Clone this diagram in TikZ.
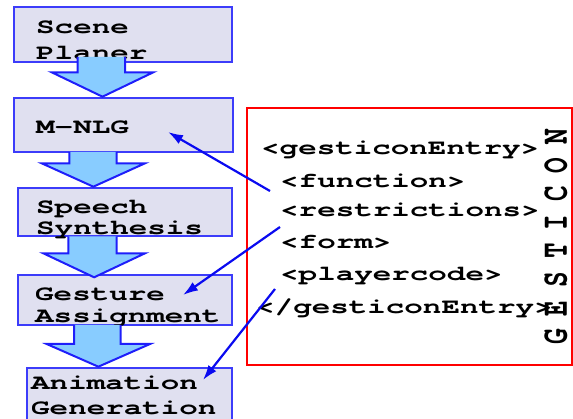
\documentclass[tikz,border=0pt]{standalone}
\usepackage{fontspec}
\newfontfamily\courwide[FakeStretch=1.45]{texgyrecursor-bold.otf}
\newfontfamily\courplain{texgyrecursor-bold.otf}
\usetikzlibrary{arrows.meta}

\definecolor{boxfill}{RGB}{224,224,240}
\definecolor{boxline}{RGB}{60,60,250}
\definecolor{flowfill}{RGB}{136,204,255}
\definecolor{flowline}{RGB}{30,30,250}
\definecolor{linkblue}{RGB}{10,10,240}
\definecolor{lexred}{RGB}{255,0,0}

% block arrow between two stages: top, shoulder, tip y, shaft left, shaft right, head left, head right
\newcommand\flowarrow[7]{%
  \fill[flowfillst] (#4,#1) -- (#5,#1) -- (#5,#2) -- (#7,#2) -- ({(#6+#7)/2},#3)
     -- (#6,#2) -- (#4,#2) -- cycle;
  \draw[flowedge] (#4,#1) -- (#4,#2) -- (#6,#2) -- ({(#6+#7)/2},#3)
     -- (#7,#2) -- (#5,#2) -- (#5,#1);}

\begin{document}
\begin{tikzpicture}[x=1pt,y=-1pt,
  stagebox/.style={draw=boxline, fill=boxfill, line width=1.3pt, inner sep=0pt},
  stagetext/.style={anchor=base west, inner sep=0pt, font=\courwide\fontsize{21.3}{25}\selectfont},
  lexbox/.style={draw=lexred, fill=white, line width=2.2pt, inner sep=0pt},
  lextext/.style={anchor=base west, inner sep=0pt, font=\courwide\fontsize{21.3}{25}\selectfont},
  sideletter/.style={rotate=90, yscale=1.45, inner sep=0pt, font=\courplain\fontsize{26}{30}\selectfont},
  flowfillst/.style={fill=flowfill},
  flowedge/.style={draw=flowline, line width=2pt, line join=miter},
  link/.style={draw=linkblue, line width=2.2pt, -{Latex[length=15pt,width=10pt]}}]

\useasboundingbox (0,0) rectangle (573,419);

% processing stages
\node[stagebox, minimum width=218pt, minimum height=55pt] (scene)   at (123,34.5) {};
\node[stagebox, minimum width=219pt, minimum height=54pt] (mnlg)    at (123.5,125) {};
\node[stagebox, minimum width=214pt, minimum height=48pt] (speech)  at (125,212) {};
\node[stagebox, minimum width=214pt, minimum height=50pt] (gesture) at (125,300) {};
\node[stagebox, minimum width=205pt, minimum height=64pt] (anim)    at (129.5,400) {};

\node[stagetext] (sceneA)   at (36,33.3)  {Scene};
\node[stagetext] (sceneB)   at (36,60)    {Planer};
\node[stagetext] (mnlgA)    at (36,133.3) {M-NLG};
\node[stagetext] (speechA)  at (36,214)   {Speech};
\node[stagetext] (speechB)  at (36,235)   {Synthesis};
\node[stagetext] (gestA)    at (35,300.7) {Gesture};
\node[stagetext] (gestB)    at (35,322.7) {Assignment};
\node[stagetext] (animA)    at (31,390)   {Animation};
\node[stagetext] (animB)    at (31,414)   {Generation};

% block arrows between the stages
\flowarrow{57}{72.3}{96.7}{77.7}{125}{51.7}{153.3}
\flowarrow{152}{163.3}{186.7}{69.3}{116.7}{41.7}{145}
\flowarrow{236.5}{253.3}{277.3}{68.3}{116.7}{43.3}{145}
\flowarrow{325}{344}{366.7}{74}{120.7}{46.7}{150}

% gesticon entry
\node[lexbox, minimum width=325pt, minimum height=257pt] (lex) at (409.5,236.5) {};
\node[lextext] (eOpen)  at (261,155)   {<gesticonEntry>};
\node[lextext] (eFunc)  at (280,187.3) {<function>};
\node[lextext] (eRestr) at (280,216.7) {<restrictions>};
\node[lextext] (eForm)  at (280,248.3) {<form>};
\node[lextext] (ePlay)  at (280,281)   {<playercode>};
\node[lextext] (eClose) at (256,313.3) {</gesticonEntry>};

\foreach \ch [count=\i from 0] in {G,E,S,T,I,C,O,N}
  \node[sideletter] (side\i) at (556,{337-28.6*\i}) {\ch};

% links from entry fields to stages
\coordinate (funcOut)  at (270,191);
\coordinate (restrOut) at (280,227);
\coordinate (playOut)  at (275,289);
\coordinate (mnlgIn)   at (168,132);
\coordinate (gestIn)   at (183,295);
\coordinate (animIn)   at (203,380);
\draw[link] (funcOut)  -- (mnlgIn);
\draw[link] (restrOut) -- (gestIn);
\draw[link] (playOut)  -- (animIn);
\end{tikzpicture}
\end{document}
